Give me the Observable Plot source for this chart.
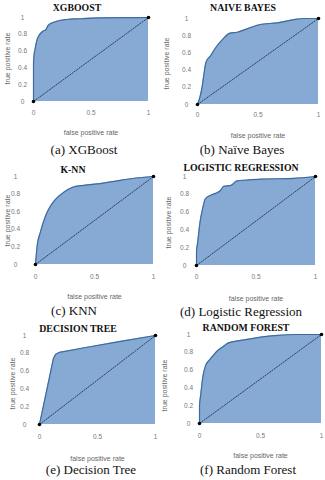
<!DOCTYPE html>
<html><head><meta charset="utf-8">
<script src="https://cdn.jsdelivr.net/npm/d3@7"></script>
<script src="https://cdn.jsdelivr.net/npm/@observablehq/plot@0.6"></script>
<style>
body{margin:0;background:#fff}
#wrap{position:relative;width:325px;height:480px;overflow:hidden;background:#fff}
.title{position:absolute;font:bold 9.8px "Liberation Serif","Times New Roman",serif;color:#111;white-space:nowrap;transform:translate(-50%,-50%)}
.cap{position:absolute;font:13px "Liberation Serif","Times New Roman",serif;color:#111;white-space:nowrap;transform:translate(-50%,-50%)}
.plot{position:absolute}
</style></head><body><div id="wrap"></div>
<script>
// ---- data ----
const titles = ["XGBOOST", "NAIVE BAYES", "K-NN", "LOGISTIC REGRESSION", "DECISION TREE", "RANDOM FOREST"];
const captions = ["(a) XGBoost", "(b) Naïve Bayes", "(c) KNN", "(d) Logistic Regression", "(e) Decision Tree", "(f) Random Forest"];

const xgbFpr = [0, 0, 0.005, 0.012, 0.03, 0.05, 0.076, 0.11, 0.13, 0.19, 0.29, 0.4, 0.58, 0.8, 1];
const xgbTpr = [0, 0.45, 0.55, 0.61, 0.73, 0.79, 0.83, 0.86, 0.91, 0.95, 0.976, 0.985, 0.996, 0.998, 1];

const nbFpr = [0, 0.02, 0.04, 0.055, 0.07, 0.11, 0.15, 0.21, 0.27, 0.33, 0.41, 0.52, 0.66, 0.79, 0.88, 1];
const nbTpr = [0, 0.085, 0.22, 0.37, 0.49, 0.57, 0.66, 0.76, 0.83, 0.84, 0.88, 0.93, 0.95, 0.985, 1, 1];

const knnFpr = [0, 0.006, 0.014, 0.04, 0.085, 0.13, 0.17, 0.24, 0.31, 0.41, 0.55, 0.69, 0.84, 1];
const knnTpr = [0, 0.1, 0.21, 0.36, 0.55, 0.67, 0.74, 0.82, 0.875, 0.9, 0.92, 0.95, 0.98, 1];

const lrFpr = [0, 0, 0.01, 0.03, 0.05, 0.075, 0.12, 0.16, 0.2, 0.23, 0.29, 0.34, 0.43, 0.54, 0.82, 1];
const lrTpr = [0, 0.15, 0.26, 0.49, 0.63, 0.75, 0.79, 0.81, 0.84, 0.89, 0.9, 0.95, 0.96, 0.97, 0.98, 1];

const dtFpr = [0, 0.06, 0.12, 0.14, 0.17, 0.4, 0.7, 1];
const dtTpr = [0, 0.37, 0.74, 0.79, 0.81, 0.865, 0.935, 1];

const rfFpr = [0, 0, 0.01, 0.025, 0.05, 0.08, 0.11, 0.15, 0.19, 0.23, 0.28, 0.37, 0.5, 0.64, 0.78, 1];
const rfTpr = [0, 0.2, 0.32, 0.5, 0.65, 0.71, 0.76, 0.82, 0.86, 0.9, 0.92, 0.94, 0.97, 0.99, 1, 1];

const diagFpr = [0, 1];
const diagTpr = [0, 1];

const yTicks = [0, 0.2, 0.4, 0.6, 0.8, 1];
const yTickLabels = ["0", "0.2", "0.4", "0.6", "0.8", "1"];
const xTicks = [0, 0.5, 1];
const xTickLabels = ["0", "0.5", "1"];
const xAxisLabel = "false positive rate";
const yAxisLabel = "true positive rate";

const series = [[xgbFpr, xgbTpr], [nbFpr, nbTpr], [knnFpr, knnTpr], [lrFpr, lrTpr], [dtFpr, dtTpr], [rfFpr, rfTpr]];

// ---- layout (page pixels) ----
const layout = [
  {left:0,   w:160, fx0:33,  fx1:148, fy0:17,  fy1:101, tickY:113, tickX:22,  xlab:132, ylabX:7,   ylabY:58,  tx:77,  ty:7,   cx:84,  cy:150},
  {left:160, w:165, fx0:197, fx1:318, fy0:18,  fy1:104, tickY:115, tickX:186, xlab:135, ylabX:166, ylabY:63,  tx:243, ty:7,   cx:242, cy:150},
  {left:0,   w:160, fx0:35,  fx1:153, fy0:176, fy1:264, tickY:277, tickX:15,  xlab:296, ylabX:7,   ylabY:220, tx:73,  ty:169, cx:74,  cy:311},
  {left:160, w:165, fx0:196, fx1:315, fy0:176, fy1:265, tickY:277, tickX:184, xlab:298, ylabX:168, ylabY:222, tx:241, ty:167, cx:241, cy:312},
  {left:0,   w:160, fx0:39,  fx1:155, fy0:335, fy1:424, tickY:437, tickX:24,  xlab:458, ylabX:12,  ylabY:383, tx:78,  ty:328, cx:91,  cy:470},
  {left:160, w:165, fx0:199, fx1:321, fy0:334, fy1:423, tickY:436, tickX:188, xlab:455, ylabX:164, ylabY:385, tx:246, ty:327, cx:248, cy:470}
];

const wrap = document.getElementById("wrap");
const tickFont = '"Liberation Sans", Arial, sans-serif';

layout.forEach((p, k) => {
  const top = p.fy0 - 8;
  const bottom = p.xlab + 7;
  const H = bottom - top;
  const W = p.w;
  const [fpr, tpr] = series[k];
  const data = fpr.map((x, i) => ({x, y: tpr[i]}));
  const diag = diagFpr.map((x, i) => ({x, y: diagTpr[i]}));
  const curve = k === 4 ? "linear" : "monotone-x";
  const chart = Plot.plot({
    width: W, height: H,
    marginLeft: p.fx0 - p.left,
    marginRight: p.left + W - p.fx1,
    marginTop: p.fy0 - top,
    marginBottom: bottom - p.fy1,
    x: {domain: [0, 1]},
    y: {domain: [0, 1]},
    style: {background: "transparent", overflow: "visible", fontFamily: tickFont},
    marks: [
      Plot.areaY(data, {x: "x", y: "y", fill: "#86aad4", curve}),
      Plot.line(data, {x: "x", y: "y", stroke: "#3e6b9e", strokeWidth: 1.2, curve}),
      Plot.line(diag, {x: "x", y: "y", stroke: "#1c3452", strokeWidth: 0.9, strokeDasharray: "1.3,1.5"}),
      Plot.dot(diag, {x: "x", y: "y", r: 1.8, fill: "#000", stroke: null}),
      Plot.axisY(yTicks, {tickSize: 0, tickPadding: p.fx0 - p.tickX, textAnchor: "middle", fontSize: 6.5, fill: "#777", label: null,
        tickFormat: d => yTickLabels[yTicks.indexOf(d)]}),
      Plot.axisX(xTicks, {tickSize: 0, tickPadding: p.tickY - p.fy1 - 3.5, fontSize: 6.5, fill: "#777", label: null,
        tickFormat: d => xTickLabels[xTicks.indexOf(d)]}),
      Plot.text([xAxisLabel], {text: d => d, frameAnchor: "bottom", dy: p.xlab - p.fy1, lineAnchor: "middle", fontSize: 7, fill: "#666"}),
      Plot.text([yAxisLabel], {text: d => d, frameAnchor: "left", dx: p.ylabX - p.fx0, dy: p.ylabY - (p.fy0 + p.fy1) / 2,
        rotate: -90, textAnchor: "middle", lineAnchor: "middle", fontSize: 7, fill: "#666"})
    ]
  });
  chart.classList.add("plot");
  chart.style.left = p.left + "px";
  chart.style.top = top + "px";
  wrap.appendChild(chart);

  const t = document.createElement("div");
  t.className = "title"; t.textContent = titles[k];
  t.style.left = p.tx + "px"; t.style.top = p.ty + "px";
  wrap.appendChild(t);

  const c = document.createElement("div");
  c.className = "cap"; c.textContent = captions[k];
  c.style.left = p.cx + "px"; c.style.top = p.cy + "px";
  wrap.appendChild(c);
});
</script>
</body></html>
